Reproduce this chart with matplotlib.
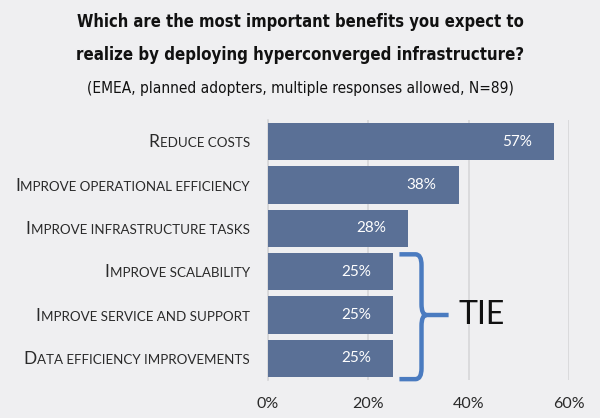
import matplotlib
matplotlib.use("Agg")
import matplotlib.pyplot as plt
from matplotlib.path import Path
from matplotlib.patches import PathPatch
from matplotlib import font_manager
from matplotlib.font_manager import FontProperties

categories = ["Reduce costs", "Improve operational efficiency", "Improve infrastructure tasks",
              "Improve scalability", "Improve service and support", "Data efficiency improvements"]
values = [57, 38, 28, 25, 25, 25]
xticks = [0, 20, 40, 60]
xtick_labels = ["0%", "20%", "40%", "60%"]
tie_label = "TIE"
title_lines = ["Which are the most important benefits you expect to",
               "realize by deploying hyperconverged infrastructure?"]
subtitle = "(EMEA, planned adopters, multiple responses allowed, N=89)"

BG = "#EFEFF1"
BAR = "#5A7096"
BRACE = "#4A7BC0"
GRID = "#D6D6D8"
TXT = "#2A2A2A"

avail = {f.name for f in font_manager.fontManager.ttflist}
body = "Lato" if "Lato" in avail else "DejaVu Sans"


def find_condensed(bold):
    best = None
    for f in font_manager.fontManager.ttflist:
        nm = f.name.lower()
        st = str(f.stretch).lower()
        is_cond = ("condensed" in nm or "narrow" in nm or "condensed" in st or st in ("semi-condensed",)
                   or (isinstance(f.stretch, int) and f.stretch < 500))
        if not is_cond:
            continue
        w = f.weight if isinstance(f.weight, int) else {"bold": 700, "normal": 400, "regular": 400}.get(str(f.weight).lower(), 400)
        if bold and w < 600:
            continue
        if not bold and (w > 500 or w < 400):
            continue
        if "italic" in str(f.style).lower() or "oblique" in str(f.style).lower():
            continue
        best = f.fname
        break
    return best


bold_path = find_condensed(True)
reg_path = find_condensed(False)
title_fp = FontProperties(fname=bold_path) if bold_path else FontProperties(family="Roboto", weight="bold")
sub_fp = FontProperties(fname=reg_path) if reg_path else FontProperties(family="Roboto")

fig = plt.figure(figsize=(6.0, 4.18), dpi=100, facecolor=BG)
ax = fig.add_axes([268/600, 1-380/418, 301/600, 260/418])
ax.set_facecolor(BG)

y = list(range(len(categories)))
ax.barh(y, values, height=0.855, color=BAR, zorder=3)
ax.set_xlim(0, 60)
ax.set_ylim(len(categories)-0.5, -0.5)
ax.set_xticks(xticks)
ax.set_xticklabels(xtick_labels, fontfamily=body, fontsize=11.5, color=TXT)
ax.tick_params(axis="x", length=0, pad=12)
ax.set_yticks([])
for s in ["top", "right", "bottom"]:
    ax.spines[s].set_visible(False)
ax.spines["left"].set_color(GRID)
ax.spines["left"].set_linewidth(1.2)
ax.grid(axis="x", color=GRID, linewidth=1.2, zorder=0)
ax.set_axisbelow(True)

for yi, v in zip(y, values):
    ax.annotate(f"{v}%", xy=(v, yi), xytext=(-16, 0), textcoords="offset points",
                ha="right", va="center", color="white", fontfamily=body, fontsize=11, zorder=4)

# small-caps category labels
fig.canvas.draw()
renderer = fig.canvas.get_renderer()
for yi, lab in zip(y, categories):
    rest = ax.annotate(lab[1:].upper(), xy=(0, yi), xytext=(-13, -4), textcoords="offset points",
                       ha="right", va="baseline", fontfamily=body, fontsize=9.6, color=TXT,
                       annotation_clip=False)
    w = rest.get_window_extent(renderer).width * 72 / fig.dpi
    ax.annotate(lab[0].upper(), xy=(0, yi), xytext=(-13 - w - 0.3, -4), textcoords="offset points",
                ha="right", va="baseline", fontfamily=body, fontsize=12.5, color=TXT,
                annotation_clip=False)

# brace next to tied bars
tie_idx = [i for i, v in enumerate(values) if v == values[-1]]
tv = values[tie_idx[0]]
y0, y1 = tie_idx[0] - 0.4, tie_idx[-1] + 0.48
ym = (tie_idx[0] + tie_idx[-1]) / 2
xa, xb, xc = tv + 1.2, tv + 5.6, tv + 11.0
r = 0.25
verts = [(xa, y0), (xb - 1.2, y0), (xb, y0), (xb, y0 + r),
         (xb, ym - r), (xb, ym), (xb + 1.0, ym), (xc, ym),
         (xb + 1.0, ym), (xb, ym), (xb, ym + r),
         (xb, y1 - r), (xb, y1), (xb - 1.2, y1), (xa, y1)]
codes = [Path.MOVETO, Path.LINETO, Path.CURVE3, Path.CURVE3,
         Path.LINETO, Path.CURVE3, Path.CURVE3, Path.LINETO,
         Path.MOVETO, Path.CURVE3, Path.CURVE3,
         Path.LINETO, Path.CURVE3, Path.CURVE3, Path.LINETO]
ax.add_patch(PathPatch(Path(verts, codes), facecolor="none", edgecolor=BRACE, lw=3.2,
                       capstyle="butt", joinstyle="round", zorder=5, clip_on=False))
ax.text(tv + 13.0, ym, tie_label, ha="left", va="center", fontfamily=body, fontsize=23,
        color="#111111", zorder=5)


def fitted_text(s, ypx, fp, target_w, size0):
    t = fig.text(0.5, 1 - ypx/418, s, ha="center", va="center", fontproperties=fp.copy(),
                 color="#111111")
    t.set_fontsize(size0)
    w = t.get_window_extent(renderer).width
    t.set_fontsize(min(size0 * target_w / w, 16))
    return t


fitted_text(title_lines[0], 22, title_fp, 450, 14)
fitted_text(title_lines[1], 55, title_fp, 452, 14)
fitted_text(subtitle, 88, sub_fp, 427, 12)

fig.savefig("out.png", dpi=100, facecolor=BG)
